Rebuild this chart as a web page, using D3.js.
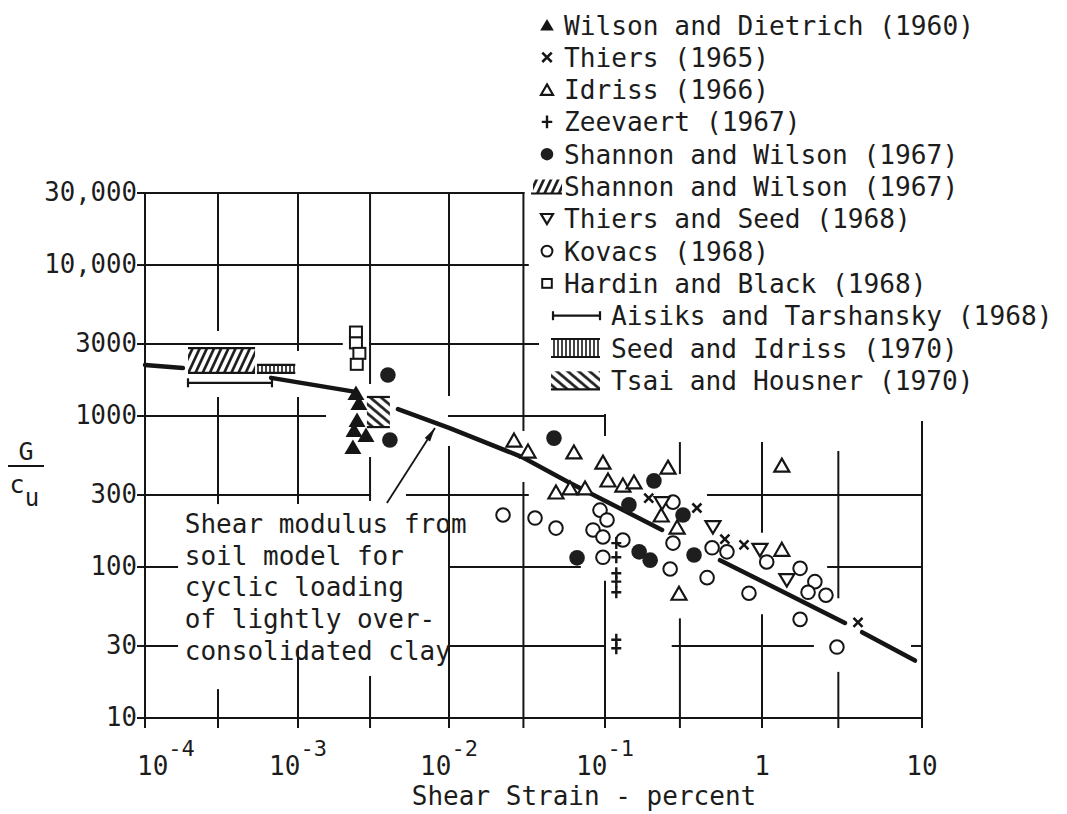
<!DOCTYPE html>
<html><head><meta charset="utf-8">
<script src="https://cdn.jsdelivr.net/npm/d3@7"></script>
<style>
body{margin:0;background:#fff;}
svg text{font-family:"DejaVu Sans Mono",monospace;fill:#1c1c1c;}
</style></head>
<body><svg id="chart" width="1067" height="814"></svg>
<script>
// ---------------- data (strain in percent, G/cu) ----------------
const wilsonDietrich = [[2.42e-3,1420],[2.53e-3,1220],[2.46e-3,940],[2.35e-3,808],[2.82e-3,748],[2.31e-3,624]];
const thiers = [[0.19,286],[0.385,246],[0.58,153],[0.768,140],[3.98,43]];
const idriss = [[0.0261,693],[0.0321,586],[0.0632,578],[0.097,495],[0.252,459],[0.1045,377],[0.130,349],[0.153,366],[0.0485,314],[0.0597,334],[0.0745,334],[0.228,221],[0.288,184],[0.296,67],[1.33,473],[1.33,131]];
const zeevaert = [[0.118,144],[0.118,116],[0.118,91],[0.118,80],[0.118,68],[0.118,33],[0.118,29]];
const shannonWilson = [[3.94e-3,1870],[4.06e-3,693],[0.0471,714],[0.205,372],[0.142,258],[0.314,221],[0.0662,115],[0.165,126],[0.194,111],[0.369,120]];
const thiersSeed = [[0.231,265],[0.487,184],[0.97,130],[1.43,82]];
const kovacs = [[0.0222,221],[0.0356,211],[0.0485,181],[0.0929,238],[0.103,205],[0.0838,176],[0.097,158],[0.130,151],[0.097,116],[0.271,269],[0.271,144],[0.26,97],[0.481,134],[0.598,126],[0.447,85],[0.826,67],[1.07,108],[1.73,98],[2.14,80],[1.94,68],[2.51,65],[1.73,45],[2.94,29.5]];
const hardinBlack = [[2.42e-3,3600],[2.42e-3,3050],[2.55e-3,2600],[2.45e-3,2200]];
// range data
const shannonWilsonRange = {x:[1.91e-4,5.24e-4], y:[1930,2820]};
const aisiksRange = {x:[1.91e-4,6.76e-4], y:1660};
const seedIdrissRange = {x:[5.39e-4,9.6e-4], y:[1930,2180]};
const tsaiHousnerRange = {x:[2.86e-3,4.06e-3], y:[845,1337]};
// soil model curve (drawn in broken pieces)
const modelCurve = [
  [[1e-4,2180],[1.77e-4,2080]],
  [[6.67e-4,1790],[2.46e-3,1440]],
  [[4.59e-3,1110],[0.0101,832],[0.0294,535],[0.058,366],[0.231,176]],
  [[0.54,111],[3.30,42.6]],
  [[4.22,37],[9.04,24]]
];
const arrowFrom = [3.88e-3,265], arrowTo = [8.07e-3,833];
// ticks
const xTickValues = [1e-4,1e-3,1e-2,1e-1,1,10];
const xTickBase = ["10","10","10","10","1","10"];
const xTickExp = ["-4","-3","-2","-1","",""];
const yTickValues = [10,30,100,300,1000,3000,10000,30000];
const yTickLabels = ["10","30","100","300","1000","3000","10,000","30,000"];
const legendLabels = ["Wilson and Dietrich (1960)","Thiers (1965)","Idriss (1966)","Zeevaert (1967)","Shannon and Wilson (1967)","Shannon and Wilson (1967)","Thiers and Seed (1968)","Kovacs (1968)","Hardin and Black (1968)","Aisiks and Tarshansky (1968)","Seed and Idriss (1970)","Tsai and Housner (1970)"];
const legendSymbols = ["triFill","cross","triOpen","plus","dot","fwdHatch","triDown","circle","square","rangeBar","vHatch","backHatch"];
const annotationLines = ["Shear modulus from","soil model for","cyclic loading","of lightly over-","consolidated clay"];
const xTitle = "Shear Strain - percent";

// grid drawn with breaks (data units)
const hGrid = [
 {v:30000, spans:[[1e-4,3e-2]]},
 {v:10000, spans:[[1e-4,0.032]]},
 {v:3000, spans:[[1e-4,1.95e-3],[3e-3,0.0372]]},
 {v:1000, spans:[[1e-4,1.51e-3],[1e-2,0.1]]},
 {v:300, spans:[[1e-4,3e-3],[5.27e-3,0.032],[0.453,10]]},
 {v:100, spans:[[1e-4,1.62e-4],[1e-2,0.069],[2.59,10]]},
 {v:30, spans:[[1e-4,1.62e-4],[1e-2,0.1],[0.27,2.08],[8.66,10]]},
 {v:10, spans:[[1e-4,10]]}
];
const vGrid = [
 {v:1e-4, spans:[[10,30000]]},
 {v:3e-4, spans:[[3715,30000],[265,1316],[10,15.3]]},
 {v:1e-3, spans:[[2737,30000],[265,1316],[10,28.2]]},
 {v:3e-3, spans:[[1655,30000],[278,527],[10,18.7]]},
 {v:1e-2, spans:[[1378,30000],[10,624]]},
 {v:3e-2, spans:[[808,30000],[10,360]]},
 {v:0.1, spans:[[748,1016],[10,80]]},
 {v:0.3, spans:[[419,662],[10,45]]},
 {v:1, spans:[[171,662],[10,48]]},
 {v:3, spans:[[63,578],[10,19.9]]},
 {v:10, spans:[[10,912]]}
];

// ---------------- drawing ----------------
const svg = d3.select("#chart");
const ink = "#151515";
const x = d3.scaleLog().domain([1e-4,1e-3,1e-2,1e-1,1,10]).range([145,298,449,605,762,922]);
const y = d3.scaleLog().domain([10,30000]).range([718,193]);

const defs = svg.append("defs");
function hatch(id, w, rot, sw){
  const p = defs.append("pattern").attr("id",id).attr("patternUnits","userSpaceOnUse")
    .attr("width",w).attr("height",20).attr("patternTransform",`rotate(${rot})`);
  p.append("line").attr("x1",w/2).attr("x2",w/2).attr("y1",0).attr("y2",20)
    .attr("stroke",ink).attr("stroke-width",sw);
}
hatch("fwd", 6.5, 25, 2.6);
hatch("vert", 4, 0, 1.6);
hatch("back", 7, -50, 2.6);

// grid
const g = svg.append("g").attr("stroke",ink).attr("stroke-width",2).attr("stroke-linecap","square");
hGrid.forEach(h => h.spans.forEach(s => g.append("line")
  .attr("x1",x(s[0])).attr("x2",x(s[1])).attr("y1",y(h.v)).attr("y2",y(h.v))));
vGrid.forEach(v => v.spans.forEach(s => g.append("line")
  .attr("x1",x(v.v)).attr("x2",x(v.v)).attr("y1",y(s[0])).attr("y2",y(s[1]))));
// ticks
vGrid.forEach(v => g.append("line").attr("x1",x(v.v)).attr("x2",x(v.v)).attr("y1",y(10)).attr("y2",y(10)+9));
hGrid.forEach(h => g.append("line").attr("x1",x(1e-4)-7).attr("x2",x(1e-4)).attr("y1",y(h.v)).attr("y2",y(h.v)));

// axis labels
const yl = svg.append("g").attr("font-size",25.7).attr("text-anchor","end");
yTickValues.forEach((v,i)=> yl.append("text").attr("x",x(1e-4)-8).attr("y",y(v)+8).text(yTickLabels[i]));
const xl = svg.append("g").attr("font-size",26);
xTickValues.forEach((v,i)=>{
  const t = xl.append("text").attr("y",y(10)+57)
    .attr("x", i===0 ? x(v)-8 : x(v))
    .attr("text-anchor", i===0 ? "start" : "middle");
  t.append("tspan").text(xTickBase[i]);
  if (xTickExp[i]) t.append("tspan").attr("font-size",22).attr("dy",-19).text(xTickExp[i]);
});
svg.append("text").attr("x",584).attr("y",805).attr("font-size",26).attr("text-anchor","middle").text(xTitle);
// y title G / c_u
svg.append("text").attr("x",26).attr("y",460).attr("font-size",25).attr("text-anchor","middle").text("G");
svg.append("line").attr("x1",8).attr("x2",44).attr("y1",466).attr("y2",466).attr("stroke",ink).attr("stroke-width",2);
svg.append("text").attr("x",17).attr("y",493).attr("font-size",25).attr("text-anchor","middle").text("c");
svg.append("text").attr("x",32).attr("y",506).attr("font-size",24).attr("text-anchor","middle").text("u");

// model curve
const line = d3.line().x(d=>x(d[0])).y(d=>y(d[1]));
svg.append("g").selectAll("path").data(modelCurve).join("path")
  .attr("d",line).attr("fill","none").attr("stroke",ink).attr("stroke-width",4.5).attr("stroke-linecap","round");

// ranges
function hatchBox(r, pat){
  const gx = svg.append("g");
  gx.append("rect").attr("x",x(r.x[0])).attr("width",x(r.x[1])-x(r.x[0]))
    .attr("y",y(r.y[1])).attr("height",y(r.y[0])-y(r.y[1])).attr("fill",`url(#${pat})`);
  [r.y[0],r.y[1]].forEach(v=>gx.append("line").attr("x1",x(r.x[0])).attr("x2",x(r.x[1]))
    .attr("y1",y(v)).attr("y2",y(v)).attr("stroke",ink).attr("stroke-width",2.2));
}
hatchBox(shannonWilsonRange,"fwd");
hatchBox(seedIdrissRange,"vert");
hatchBox(tsaiHousnerRange,"back");
function rangeBar(x0,x1,yy){
  const gb = svg.append("g").attr("stroke",ink).attr("stroke-width",2.2);
  gb.append("line").attr("x1",x0).attr("x2",x1).attr("y1",yy).attr("y2",yy);
  [x0,x1].forEach(xx=>gb.append("line").attr("x1",xx).attr("x2",xx).attr("y1",yy-4.5).attr("y2",yy+4.5));
}
rangeBar(x(aisiksRange.x[0]),x(aisiksRange.x[1]),y(aisiksRange.y));

// arrow
const ax0=x(arrowFrom[0]), ay0=y(arrowFrom[1]), ax1=x(arrowTo[0]), ay1=y(arrowTo[1]);
svg.append("line").attr("x1",ax0).attr("y1",ay0).attr("x2",ax1).attr("y2",ay1).attr("stroke",ink).attr("stroke-width",1.8);
{
  const ang = Math.atan2(ay1-ay0, ax1-ax0), L=14, W=3.2;
  const bx = ax1 - L*Math.cos(ang), by = ay1 - L*Math.sin(ang);
  const px = -Math.sin(ang)*W, py = Math.cos(ang)*W;
  svg.append("path").attr("d",`M${ax1},${ay1}L${bx+px},${by+py}L${bx-px},${by-py}Z`).attr("fill",ink);
}

// symbols
function drawSym(sel, type, cx, cy, k){
  k = k||1;
  switch(type){
    case "triFill": sel.append("path").attr("d",`M${cx},${cy-7.5*k}L${cx+8.5*k},${cy+7*k}L${cx-8.5*k},${cy+7*k}Z`).attr("fill",ink); break;
    case "triOpen": sel.append("path").attr("d",`M${cx},${cy-6.5*k}L${cx+7.5*k},${cy+6.5*k}L${cx-7.5*k},${cy+6.5*k}Z`).attr("fill","#fff").attr("stroke",ink).attr("stroke-width",2.2); break;
    case "triDown": sel.append("path").attr("d",`M${cx},${cy+6.5*k}L${cx+7.5*k},${cy-6*k}L${cx-7.5*k},${cy-6*k}Z`).attr("fill","#fff").attr("stroke",ink).attr("stroke-width",2.2); break;
    case "circle": sel.append("circle").attr("cx",cx).attr("cy",cy).attr("r",6.8*k).attr("fill","#fff").attr("stroke",ink).attr("stroke-width",2); break;
    case "dot": sel.append("circle").attr("cx",cx).attr("cy",cy).attr("r",7.8*k).attr("fill","#1e1e1e"); break;
    case "square": sel.append("rect").attr("x",cx-6*k).attr("y",cy-5.5*k).attr("width",12*k).attr("height",11*k).attr("fill","#fff").attr("stroke",ink).attr("stroke-width",2); break;
    case "cross": sel.append("path").attr("d",`M${cx-4.5*k},${cy-4.5*k}L${cx+4.5*k},${cy+4.5*k}M${cx+4.5*k},${cy-4.5*k}L${cx-4.5*k},${cy+4.5*k}`).attr("stroke",ink).attr("stroke-width",2.6); break;
    case "plus": sel.append("path").attr("d",`M${cx},${cy-6*k}L${cx},${cy+6*k}M${cx-5*k},${cy}L${cx+5*k},${cy}`).attr("stroke",ink).attr("stroke-width",2.4); break;
  }
}
const pts = svg.append("g");
const series = [[hardinBlack,"square"],[wilsonDietrich,"triFill"],[kovacs,"circle"],[idriss,"triOpen"],[thiersSeed,"triDown"],[shannonWilson,"dot"],[thiers,"cross"],[zeevaert,"plus"]];
series.forEach(([data,type])=> data.forEach(d=>drawSym(pts,type,x(d[0]),y(d[1]))));

// annotation
const ann = svg.append("g").attr("font-size",26);
annotationLines.forEach((t,i)=> ann.append("text").attr("x",x(1.82e-4)).attr("y",y(168)+i*31.7).text(t));

// legend
const lg = svg.append("g");
legendLabels.forEach((lab,i)=>{
  const cy = 25 + i*32.3;
  const wide = i>=9;
  const sx = 547;
  const s = legendSymbols[i];
  if (s==="fwdHatch"){
    lg.append("rect").attr("x",533).attr("y",cy-7).attr("width",29).attr("height",14).attr("fill","url(#fwd)");
    lg.append("line").attr("x1",531).attr("x2",562).attr("y1",cy+7).attr("y2",cy+7).attr("stroke",ink).attr("stroke-width",2);
  } else if (s==="vHatch"){
    lg.append("rect").attr("x",551).attr("y",cy-9).attr("width",49).attr("height",18).attr("fill","url(#vert)");
    [cy-9,cy+9].forEach(v=>lg.append("line").attr("x1",551).attr("x2",600).attr("y1",v).attr("y2",v).attr("stroke",ink).attr("stroke-width",2));
  } else if (s==="backHatch"){
    lg.append("rect").attr("x",551).attr("y",cy-9).attr("width",49).attr("height",18).attr("fill","url(#back)");
    lg.append("line").attr("x1",551).attr("x2",600).attr("y1",cy+9).attr("y2",cy+9).attr("stroke",ink).attr("stroke-width",2.2);
  } else if (s==="rangeBar"){
    const gb = lg.append("g").attr("stroke",ink).attr("stroke-width",2.2);
    gb.append("line").attr("x1",553).attr("x2",600).attr("y1",cy).attr("y2",cy);
    [553,600].forEach(xx=>gb.append("line").attr("x1",xx).attr("x2",xx).attr("y1",cy-4.5).attr("y2",cy+4.5));
  } else {
    const k = (s==="cross"||s==="plus") ? 1.05 : 0.8;
    drawSym(lg, s, sx, cy, k);
  }
  lg.append("text").attr("x", wide?611:564).attr("y",cy+9.5).attr("font-size",26.2).text(lab);
});
</script>
</body></html>
